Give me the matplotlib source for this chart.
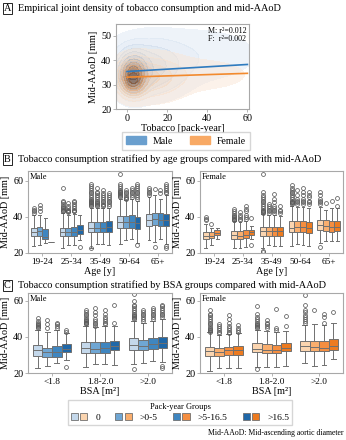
import numpy as np
import matplotlib
matplotlib.use("Agg")
import matplotlib.pyplot as plt
from matplotlib.colors import LinearSegmentedColormap
from matplotlib.patches import Patch
from matplotlib.legend_handler import HandlerTuple

plt.rcParams['font.family'] = ['Liberation Serif', 'DejaVu Serif']

W, H = 346, 440

# ---------------- data ----------------
# panel A: bivariate density described by gaussian components (x, y, sx, sy, weight)
male_cx = [3, 10, 35]
male_cy = [34.5, 37, 42]
male_sx = [4.0, 11, 20]
male_sy = [4.5, 6.5, 7.0]
male_w = [0.45, 0.40, 0.15]

female_cx = [3, 10, 35]
female_cy = [32.5, 33, 34]
female_sx = [3.5, 10, 18]
female_sy = [3.6, 4.8, 4.5]
female_w = [0.5, 0.40, 0.10]

fit_range = [0, 60]
male_fit = [35.3, 0.048]     # intercept, slope
female_fit = [33.0, 0.026]

age_groups = ['19-24', '25-34', '35-49', '50-64', '65+']
bsa_groups = ['<1.8', '1.8-2.0', '>2.0']
pack_groups = ['0', '>0-5', '>5-16.5', '>16.5']

# box stats: (q1, median, q3, whisker low, whisker high, fliers)
male_age = [
    (29.5, 31.5, 34.0, 24.0, 41.0, [42, 43, 44, 45]),
    (29.5, 32.0, 34.5, 24.5, 41.0, [43, 45, 46.5]),
    (28.0, 29.0, 33.5, 25.5, 39.5, []),
    (26.0, 26.0, 26.0, 26.0, 26.0, []),
    (29.5, 31.5, 34.0, 23.0, 42.0, [43, 43.5, 44, 44.5, 45, 45.5, 46, 47, 48, 49, 56]),
    (29.5, 31.5, 34.0, 24.5, 41.0, [42.5, 43, 43.5, 44, 45, 46, 47.5]),
    (29.5, 31.5, 34.5, 24.5, 41.5, [43, 43.5, 44, 45, 46, 47, 48, 49]),
    (30.5, 32.5, 35.5, 27.0, 41.0, [23.5]),
    (31.5, 34.0, 37.0, 23.0, 45.0, [22.5, 46, 46.5, 47, 47.5, 48, 48.5, 49, 49.5, 50, 51, 52, 53, 54, 55, 56, 57, 58]),
    (31.5, 34.0, 37.0, 25.0, 45.0, [46, 46.5, 47, 47.5, 48, 49, 50, 51, 52, 53, 54, 56]),
    (31.5, 34.0, 37.0, 25.0, 45.0, [46, 46.5, 47, 48, 49, 50, 51, 52, 53, 55]),
    (31.5, 34.5, 37.5, 24.5, 45.0, [46, 47, 48, 49, 50, 51, 52, 53]),
    (34.0, 37.0, 40.5, 25.0, 50.0, [51, 51.5, 52, 52.5, 53, 53.5, 54, 54.5, 55, 56, 57, 58, 64]),
    (34.0, 37.0, 40.5, 27.0, 49.5, [50, 50.5, 51, 52, 53, 54, 55]),
    (34.0, 37.0, 41.0, 28.0, 50.0, [51, 52, 53, 54, 55, 56]),
    (33.5, 36.5, 40.0, 25.5, 49.0, [24.5, 50, 51, 52, 53, 54, 55, 56, 57, 58]),
    (35.0, 38.0, 41.5, 27.0, 51.0, [52, 53, 54, 55, 56]),
    (35.5, 39.0, 42.0, 26.0, 52.0, [23.5, 55.5]),
    (35.0, 38.5, 42.0, 28.0, 50.0, [53, 55]),
    (35.0, 38.0, 41.5, 25.0, 52.0, [23, 24, 53, 54, 55, 56, 57, 58]),
]
female_age = [
    (28.0, 29.5, 31.5, 22.5, 36.0, [38, 39, 40]),
    (28.5, 29.5, 31.5, 24.5, 34.0, [36]),
    (30.0, 31.0, 33.0, 28.0, 34.0, []),
    None,
    (28.0, 30.0, 32.0, 22.5, 37.5, [38, 38.5, 39, 39.5, 40, 40.5, 41, 42, 43, 44.5]),
    (28.0, 29.5, 32.0, 23.0, 37.0, [38, 39, 40, 41, 42.5]),
    (28.5, 30.0, 32.5, 23.5, 37.5, [39, 40, 41, 43, 44.5, 46]),
    (30.0, 31.5, 33.0, 28.0, 35.0, [24.5, 39.5]),
    (29.5, 32.0, 34.5, 23.0, 41.5, [20.5, 21, 42, 42.5, 43, 43.5, 44, 45, 46, 47, 48, 49, 50, 51, 52, 54, 63.5]),
    (29.5, 32.0, 34.5, 24.5, 41.0, [42, 43, 44, 45, 46, 47]),
    (29.5, 32.0, 34.5, 24.0, 41.0, [42, 43, 44, 45, 46, 48, 50, 52.5]),
    (29.5, 32.0, 34.5, 24.0, 40.5, [42, 43, 44, 46]),
    (31.5, 34.0, 37.5, 24.0, 46.0, [47, 47.5, 48, 48.5, 49, 50, 51, 52, 53, 54, 55, 56, 57.5]),
    (31.5, 34.5, 37.5, 25.0, 45.5, [47, 48, 49, 50, 52, 55]),
    (31.5, 34.5, 37.5, 24.5, 45.5, [47, 48, 49, 50, 52, 54, 56]),
    (31.0, 34.0, 37.0, 24.0, 45.0, [47, 48, 49, 51, 52, 54]),
    (32.5, 35.5, 38.0, 25.5, 45.5, [23.5, 47, 48, 49, 50, 52, 54]),
    (32.0, 35.0, 38.0, 26.5, 44.0, [47.5]),
    (31.5, 34.5, 37.5, 26.5, 45.0, [49]),
    (32.0, 34.5, 37.5, 26.5, 45.0, [46, 50.5]),
]
male_bsa = [
    (29.5, 32.5, 35.5, 23.0, 44.0, [45, 45.5, 46, 46.5, 47, 48, 49, 50.5]),
    (29.0, 31.5, 34.0, 24.0, 42.5, [45, 47, 49.5]),
    (29.0, 31.5, 35.0, 25.5, 44.0, [45, 46, 47, 48]),
    (31.5, 33.5, 36.0, 27.0, 42.0, [23.5, 43, 44]),
    (31.0, 34.0, 37.0, 23.5, 46.0, [47, 47.5, 48, 48.5, 49, 49.5, 50, 51, 52, 53, 54, 55]),
    (31.0, 33.5, 37.0, 25.0, 45.5, [46, 47, 48, 49, 50, 52, 54, 56]),
    (31.0, 34.0, 37.0, 25.0, 46.0, [47, 48, 49, 50, 51, 53, 55]),
    (32.5, 35.0, 38.0, 24.5, 46.0, [48, 58]),
    (33.0, 35.5, 39.5, 25.0, 49.0, [22, 50, 50.5, 51, 51.5, 52, 53, 54, 55, 56, 57, 58, 60, 64]),
    (32.5, 35.0, 38.5, 25.5, 48.0, [49, 50, 51, 52, 53, 54, 55]),
    (33.5, 36.0, 39.5, 26.5, 49.0, [50, 51, 52, 53, 54, 55, 56]),
    (34.0, 36.5, 40.0, 26.0, 50.0, [23, 24, 51, 52, 53, 54, 55, 56, 57, 58]),
]
female_bsa = [
    (29.5, 32.0, 34.5, 21.0, 42.5, [43, 43.5, 44, 44.5, 45, 46, 47, 48, 49, 50, 51, 52, 53, 55]),
    (29.5, 31.5, 34.0, 22.5, 41.0, [42, 43, 44, 45, 46, 47]),
    (30.0, 32.5, 34.5, 23.0, 41.5, [42, 43, 44, 45, 46, 48, 50, 52]),
    (30.0, 32.5, 35.0, 23.0, 42.0, [43, 44, 45, 46.5]),
    (31.5, 33.5, 36.5, 23.5, 44.0, [22, 45, 45.5, 46, 46.5, 47, 48, 49, 50, 51, 53, 57]),
    (31.0, 33.0, 36.0, 23.5, 43.5, [45, 46, 47, 48, 49.5]),
    (31.0, 33.0, 35.5, 23.5, 43.0, [44, 45, 55.5]),
    (32.0, 34.0, 36.5, 24.0, 43.5, [46, 51.5]),
    (32.0, 35.0, 38.0, 25.5, 46.5, [48, 49, 50, 51, 52, 54, 55, 58, 63.5]),
    (32.0, 34.5, 38.0, 24.0, 47.0, [55]),
    (32.0, 34.0, 37.5, 24.5, 46.5, [48, 51, 53]),
    (32.5, 35.0, 39.0, 27.5, 47.5, [54]),
]

male_colors = ['#c4d8eb', '#6fa6d3', '#3f86c0', '#2068a8']
female_colors = ['#fbd5b0', '#f9ae6e', '#f58e40', '#ed7b20']
line_gray = '#707070'
spine_gray = '#a8a8a8'


def ax_px(l, t, r, b):
    return [l / W, 1 - b / H, (r - l) / W, (b - t) / H]


def style_ax(ax, xsize=7.3):
    for s in ax.spines.values():
        s.set_color(spine_gray)
        s.set_linewidth(0.8)
    ax.tick_params(length=2, width=0.6, color=spine_gray, pad=1.5, labelsize=7.3)
    ax.tick_params(axis='x', labelsize=xsize)


def draw_boxes(ax, stats, groups, colors, sex_label, xlabel):
    n = len(pack_groups)
    for k, st in enumerate(stats):
        if st is None:
            continue
        gi, hi = divmod(k, n)
        q1, med, q3, lo, hi_w, fl = st
        pos = gi + (hi - (n - 1) / 2) * 0.2
        ax.bxp([dict(q1=q1, med=med, q3=q3, whislo=lo, whishi=hi_w, fliers=fl)],
               positions=[pos], widths=0.2, patch_artist=True, manage_ticks=False,
               boxprops=dict(facecolor=colors[hi], edgecolor=line_gray, linewidth=0.7),
               medianprops=dict(color=line_gray, linewidth=0.7),
               whiskerprops=dict(color=line_gray, linewidth=0.7),
               capprops=dict(color=line_gray, linewidth=0.7),
               flierprops=dict(marker='o', markersize=2.8, markerfacecolor='none',
                               markeredgecolor='#5a5a5a', markeredgewidth=0.55))
    ax.set_xticks(range(len(groups)))
    ax.set_xticklabels(groups)
    ax.set_xlim(-0.5, len(groups) - 0.5)
    ax.set_yticks([20, 40, 60])
    ax.set_ylabel('Mid-AAoD [mm]', fontsize=7.3, labelpad=2)
    ax.set_xlabel(xlabel, fontsize=7.3, labelpad=1)
    ax.text(0.015, 0.975, sex_label, transform=ax.transAxes, ha='left', va='top', fontsize=6)
    style_ax(ax, xsize=6.7)


def density(gx, gy, cx, cy, sx, sy, w):
    z = np.zeros_like(gx)
    for a, b, c, d, e in zip(cx, cy, sx, sy, w):
        z += e / (c * d) * np.exp(-0.5 * (((gx - a) / c) ** 2 + ((gy - b) / d) ** 2))
    return z / z.sum()


def iso_levels(z, n=10, thresh=0.05):
    vals = np.sort(z.ravel())
    cum = np.cumsum(vals)
    cum = cum / cum[-1]
    props = np.linspace(thresh, 1, n)[:-1]
    lv = [vals[np.searchsorted(cum, p)] for p in props]
    return lv + [z.max() * 1.01]


fig = plt.figure(figsize=(W / 100, H / 100), dpi=100)


def panel_title(y, letter, text):
    fig.text(7.5 / W, 1 - y / H, letter, ha='center', va='center', fontsize=7.4,
             bbox=dict(boxstyle='square,pad=0.12', fc='white', ec='black', lw=0.6))
    fig.text(18 / W, 1 - y / H, text, ha='left', va='center', fontsize=7.4)


# ---------------- panel A ----------------
panel_title(8.5, 'A', 'Empirical joint density of tobacco consumption and mid-AAoD')
axA = fig.add_axes(ax_px(116, 24, 249, 109))
gx, gy = np.meshgrid(np.linspace(-8, 64, 240), np.linspace(17, 58, 240))
zm = density(gx, gy, male_cx, male_cy, male_sx, male_sy, male_w)
zf = density(gx, gy, female_cx, female_cy, female_sx, female_sy, female_w)
cm_m = LinearSegmentedColormap.from_list('m', ['#e4edf7', '#6e94bd', '#1f3458'])
cm_f = LinearSegmentedColormap.from_list('f', ['#fbeadb', '#e39a5c', '#6b3512'])
axA.contourf(gx, gy, zm, levels=iso_levels(zm, thresh=0.03), cmap=cm_m, alpha=0.55)
axA.contourf(gx, gy, zf, levels=iso_levels(zf, thresh=0.03), cmap=cm_f, alpha=0.5)
xs = np.array(fit_range)
axA.plot(xs, male_fit[0] + male_fit[1] * xs, color='#2f7bbf', lw=1.2)
axA.plot(xs, female_fit[0] + female_fit[1] * xs, color='#f28a2e', lw=1.2)
axA.set_xlim(-5.5, 60.8)
axA.set_ylim(20, 54.7)
axA.set_xticks([0, 20, 40, 60])
axA.set_yticks([20, 30, 40, 50])
axA.set_xlabel('Tobacco [pack-year]', fontsize=7.3, labelpad=1)
axA.set_ylabel('Mid-AAoD [mm]', fontsize=7.3, labelpad=2)
axA.text(0.98, 0.97, 'M: r²=0.012\nF:  r²=0.002', transform=axA.transAxes,
         ha='right', va='top', fontsize=5.8, linespacing=1.0)
style_ax(axA)

fig.legend(handles=[Patch(color='#6a9fce'), Patch(color='#f8a964')],
           labels=['Male', 'Female'], loc='center', bbox_to_anchor=(186 / W, 1 - 141 / H),
           ncol=2, fontsize=7, handlelength=2.0, handleheight=0.9, columnspacing=1.8,
           handletextpad=0.7, frameon=True, fancybox=False, edgecolor='#cccccc',
           borderpad=0.4)

# ---------------- panel B ----------------
panel_title(159, 'B', 'Tobacco consumption stratified by age groups compared with mid-AAoD')
axBm = fig.add_axes(ax_px(28, 171, 172, 253))
axBf = fig.add_axes(ax_px(200, 171, 343, 253))
draw_boxes(axBm, male_age, age_groups, male_colors, 'Male', 'Age [y]')
draw_boxes(axBf, female_age, age_groups, female_colors, 'Female', 'Age [y]')
for ax in (axBm, axBf):
    ax.set_ylim(20, 65.4)

# ---------------- panel C ----------------
panel_title(285.5, 'C', 'Tobacco consumption stratified by BSA groups compared with mid-AAoD')
axCm = fig.add_axes(ax_px(28, 293, 172, 373))
axCf = fig.add_axes(ax_px(200, 293, 343, 373))
draw_boxes(axCm, male_bsa, bsa_groups, male_colors, 'Male', 'BSA [m²]')
draw_boxes(axCf, female_bsa, bsa_groups, female_colors, 'Female', 'BSA [m²]')
for ax in (axCm, axCf):
    ax.set_ylim(20, 64.4)

# legend for pack-year groups
handles = [(Patch(fc=m, ec=line_gray, lw=0.6), Patch(fc=f, ec=line_gray, lw=0.6))
           for m, f in zip(male_colors, female_colors)]
fig.legend(handles=handles, labels=pack_groups, title='Pack-year Groups',
           handler_map={tuple: HandlerTuple(ndivide=None, pad=0.25)},
           loc='center', bbox_to_anchor=(180 / W, 1 - 412.5 / H), ncol=4,
           fontsize=6.8, title_fontsize=6, handlelength=1.75, handleheight=0.75,
           columnspacing=1.6, handletextpad=0.85, frameon=True, fancybox=False,
           edgecolor='#cccccc', borderpad=0.35, labelspacing=0.2)

fig.text(343 / W, 1 - 433 / H, 'Mid-AAoD: Mid-ascending aortic diameter',
         ha='right', va='center', fontsize=5.6)

fig.savefig('out.png', dpi=100)
